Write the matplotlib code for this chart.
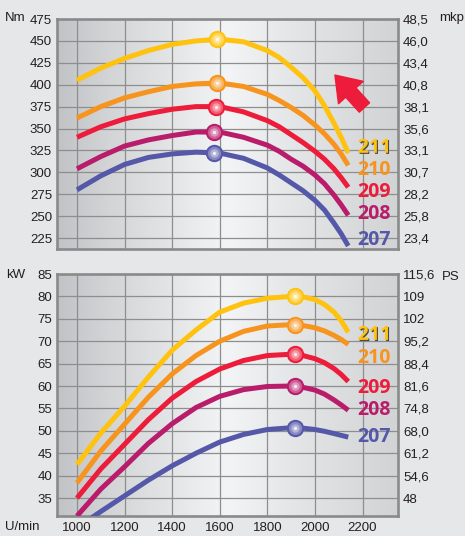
import matplotlib
matplotlib.use("Agg")
import matplotlib.pyplot as plt
import matplotlib.patheffects as pe
from matplotlib.colors import to_rgb
import numpy as np

# Motornamen und Farben
models = ["211", "210", "209", "208", "207"]
colors = ["#ffc20e", "#f7941d", "#ed1c3a", "#b81c6b", "#5557a8"]

# Drehmoment (Nm) ueber Drehzahl
rpm_t = [1000, 1100, 1200, 1300, 1400, 1500, 1600, 1700, 1800, 1850, 1900, 1950, 2000, 2040, 2080, 2110, 2140]
torque = {
    "211": [405, 419, 430, 439, 446, 450, 452, 449, 439, 431, 420, 408, 393, 376, 356, 340, 322],
    "210": [362, 375, 385, 392, 398, 401, 402, 398, 389, 382, 374, 365, 354, 344, 332, 321, 308],
    "209": [340, 352, 361, 367, 372, 375, 375, 369, 359, 352, 343, 334, 324, 315, 304, 294, 283],
    "208": [304, 318, 330, 337, 342, 346, 346, 340, 331, 324, 315, 307, 297, 287, 274, 263, 251],
    "207": [280, 296, 309, 317, 321, 323, 322, 316, 305, 297, 288, 279, 268, 257, 242, 230, 216],
}
torque_peak_rpm = [1590, 1590, 1585, 1575, 1575]
torque_peak = [452, 402, 375, 346, 322]

# Leistung (kW) ueber Drehzahl
rpm_p = [1000, 1100, 1200, 1300, 1400, 1500, 1600, 1700, 1800, 1900, 1950, 2000, 2040, 2080, 2110, 2140]
rpm_p207 = [1050, 1100, 1200, 1300, 1400, 1500, 1600, 1700, 1800, 1900, 1950, 2000, 2040, 2080, 2110, 2140]
power = {
    "211": [42.5, 49.5, 55.5, 62.0, 68.0, 72.5, 76.5, 78.5, 79.6, 80.0, 79.9, 79.3, 78.2, 76.5, 74.6, 72.0],
    "210": [38.4, 45.5, 51.5, 57.5, 62.7, 66.8, 70.0, 72.2, 73.4, 73.7, 73.5, 73.0, 72.3, 71.3, 70.4, 69.3],
    "209": [35.0, 41.5, 47.0, 52.5, 57.3, 61.0, 63.8, 65.7, 66.8, 67.1, 66.8, 66.1, 65.2, 63.9, 62.6, 61.0],
    "208": [31.0, 37.0, 42.0, 47.2, 51.6, 55.2, 57.7, 59.2, 59.9, 60.0, 59.7, 59.1, 58.2, 56.9, 55.8, 54.6],
    "207": [30.2, 32.0, 35.5, 39.0, 42.2, 45.0, 47.5, 49.2, 50.3, 50.7, 50.6, 50.3, 49.9, 49.4, 49.0, 48.6],
}
power_peak_rpm = [1915, 1915, 1915, 1915, 1915]
power_peak = [80.0, 73.7, 67.1, 60.0, 50.7]

# Achsen
x_ticks = [1000, 1200, 1400, 1600, 1800, 2000, 2200]
nm_ticks = [225, 250, 275, 300, 325, 350, 375, 400, 425, 450, 475]
mkp_labels = ["23,4", "25,8", "28,2", "30,7", "33,1", "35,6", "38,1", "40,8", "43,4", "46,0", "48,5"]
kw_ticks = [35, 40, 45, 50, 55, 60, 65, 70, 75, 80, 85]
ps_labels = ["48", "54,6", "61,2", "68,0", "74,8", "81,6", "88,4", "95,2", "102", "109", "115,6"]

# Beschriftungspositionen der Kurvennamen
label_nm = [328, 303, 278, 253, 223]
label_kw = [71.4, 66.2, 59.6, 54.6, 48.7]

font = ["Liberation Sans", "DejaVu Sans"]
fs = 9.5
bg = "#e6e7e9"
txt = "#231f20"

fig = plt.figure(figsize=(4.65, 5.36), dpi=100, facecolor=bg)
ax1 = fig.add_axes([57 / 465, 1 - 249 / 536, 341 / 465, 230 / 536])
ax2 = fig.add_axes([57 / 465, 1 - 516 / 536, 341 / 465, 242 / 536])

# Verlauf im Hintergrund
stops = [0.0, 0.15, 0.5, 0.7, 1.0]
cols = np.array([to_rgb(c) for c in ["#c2c3c6", "#d3d4d6", "#f3f4f5", "#e4e5e7", "#d2d3d5"]])
xs = np.linspace(0, 1, 300)
grad = np.stack([np.interp(xs, stops, cols[:, i]) for i in range(3)], axis=-1)[None, :, :]


def setup(ax, ylim, yticks):
    ax.imshow(grad, extent=(0, 1, 0, 1), transform=ax.transAxes, aspect="auto", zorder=0.1)
    ax.set_xlim(916, 2349)
    ax.set_ylim(*ylim)
    ax.set_xticks(x_ticks)
    ax.set_yticks(yticks)
    ax.grid(True, color="#8e8e8e", linewidth=0.9)
    ax.set_axisbelow(True)
    for s in ax.spines.values():
        s.set_color("#8a8a8a")
        s.set_linewidth(1.9)
    ax.tick_params(length=0, labelsize=fs, labelcolor=txt, pad=3.6)
    for t in ax.get_yticklabels() + ax.get_xticklabels():
        t.set_family(font)


def right_labels(ax, ylim, yticks, labels):
    tw = ax.twinx()
    tw.set_ylim(*ylim)
    tw.set_yticks(yticks)
    tw.set_yticklabels(labels, family=font)
    tw.tick_params(length=0, labelsize=fs, labelcolor=txt, pad=3.6)
    for s in tw.spines.values():
        s.set_visible(False)


def ball(ax, x, y, c):
    base = np.array(to_rgb(c))
    for ms, k in [(12.5, 0.0), (9.5, 0.3), (6, 0.55), (2.5, 0.9)]:
        col = base + (1 - base) * k
        ax.plot([x], [y], "o", ms=ms, color=col, mec="none", zorder=5)


def curve_label(ax, y, name, c):
    effects = []
    if name == "211":
        effects = [pe.withSimplePatchShadow(offset=(0.8, -0.8), shadow_rgbFace="#4a4a4a", alpha=1)]
    ax.text(2320, y, name, color=c, fontsize=14, fontweight="bold", family=["Open Sans", "DejaVu Sans"],
            ha="right", va="center", zorder=6, path_effects=effects)


# Drehmoment
setup(ax1, (212.5, 475), nm_ticks)
ax1.set_xticklabels([])
right_labels(ax1, (212.5, 475), nm_ticks, mkp_labels)
for i, m in enumerate(models):
    ax1.plot(rpm_t, torque[m], color=colors[i], lw=3.6, solid_capstyle="butt", solid_joinstyle="round", zorder=3)
    ball(ax1, torque_peak_rpm[i], torque_peak[i], colors[i])
    curve_label(ax1, label_nm[i], m, colors[i])
ax1.annotate("", xy=(2084, 411), xytext=(2208, 374),
             arrowprops=dict(arrowstyle="simple,head_length=0.85,head_width=1.2,tail_width=0.5",
                             color="#ed1c3a", mutation_scale=20, shrinkA=0, shrinkB=0), zorder=4)

# Leistung
setup(ax2, (31, 85), kw_ticks)
right_labels(ax2, (31, 85), kw_ticks, ps_labels)
ax2.tick_params(axis="x", pad=4)
for i, m in enumerate(models):
    xr = rpm_p207 if m == "207" else rpm_p
    ax2.plot(xr, power[m], color=colors[i], lw=3.6, solid_capstyle="butt", solid_joinstyle="round", zorder=3)
    ball(ax2, power_peak_rpm[i], power_peak[i], colors[i])
    curve_label(ax2, label_kw[i], m, colors[i])

# Einheiten
fig.text(5 / 465, 1 - 18 / 536, "Nm", fontsize=fs, color=txt, family=font, va="center")
fig.text(439 / 465, 1 - 18 / 536, "mkp", fontsize=fs, color=txt, family=font, va="center")
fig.text(6 / 465, 1 - 275 / 536, "kW", fontsize=fs, color=txt, family=font, va="center")
fig.text(442 / 465, 1 - 277 / 536, "PS", fontsize=fs, color=txt, family=font, va="center")
fig.text(5 / 465, 1 - 527 / 536, "U/min", fontsize=fs, color=txt, family=font, va="center")

fig.savefig("out.png", dpi=100, facecolor=bg)
